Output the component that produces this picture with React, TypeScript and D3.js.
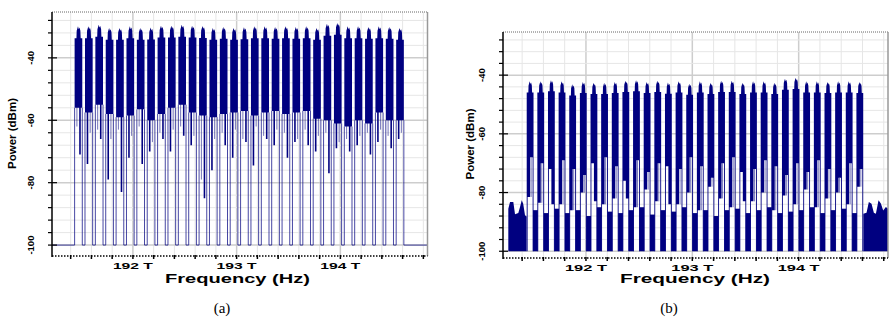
import React from "react";
import * as d3 from "d3";

// WDM spectrum, 32 channels on a 100 GHz grid (THz)
const channelFreqs = [
  191.475, 191.575, 191.675, 191.775, 191.875, 191.975, 192.075, 192.175,
  192.275, 192.375, 192.475, 192.575, 192.675, 192.775, 192.875, 192.975,
  193.075, 193.175, 193.275, 193.375, 193.475, 193.575, 193.675, 193.775,
  193.875, 193.975, 194.075, 194.175, 194.275, 194.375, 194.475, 194.575,
];

// (a) transmitter side, dBm
const peakA = [-29.9, -29.9, -29.4, -30.4, -30.4, -29.9, -30.4, -30.3, -29.7, -29.7, -29.4, -29.7, -29.8, -30.4, -30.1, -30.4,
  -30.2, -29.9, -29.9, -30.1, -29.9, -30.1, -29.9, -30.4, -29.1, -28.8, -29.9, -29.9, -30.1, -29.9, -30.1, -30.4];
const floorA = [-56, -57.5, -55, -58, -59, -58.5, -56.5, -60, -58, -56, -55, -57.5, -58.5, -59, -58, -57.5,
  -57, -58.5, -57.5, -57, -58, -57.5, -57, -59.5, -60, -61, -62, -60, -61, -57.5, -60, -60];
const dipA = [-71, -74, -66, -79, -83, -72, -74, -70, -66, -70, -65, -68, -85, -76, -68, -72,
  -67, -74.5, -66, -68, -72, -67, -68, -70, -77, -69, -70, -68, -71, -67, -69, -66];
const dipLightA = [-62, -64, -63, -66, -63, -65, -62, -67, -64, -63, -62, -65, -79, -66, -64, -63,
  -66, -62, -65, -63, -64, -66, -63, -65, -64, -67, -66, -65, -64, -63, -65, -64];

// (b) receiver side, dBm
const peakB = [-42.1, -42.1, -41.7, -42.1, -43.1, -42.3, -42.6, -42.6, -42.3, -41.9, -41.7, -42.3, -41.9, -42.5, -42.1, -42.9,
  -42.1, -42.6, -41.9, -41.9, -42.6, -42.1, -42.1, -42.6, -41.2, -40.9, -42.1, -42.1, -42.3, -42.1, -42.1, -42.3];
const lowLeftB = [-81.5, -83.5, -72, -84, -86, -80, -70, -84, -82, -76, -85, -79, -83, -71, -84, -80,
  -86, -78, -82, -85, -73, -83, -80, -86, -81, -84, -79, -85, -82, -80, -84, -78];
const lowRightB = [-68, -70, -84, -69, -72, -74, -83, -68, -71, -82, -69, -73, -70, -84, -72, -68,
  -71, -75, -70, -68, -83, -72, -69, -71, -74, -70, -73, -69, -72, -75, -70, -72];
const gapNoiseB = [-86, -87, -85.5, -87, -86, -88, -85, -86.5, -87, -86, -85, -87.5, -86, -86.5, -85, -87,
  -86, -88, -86, -85.5, -87, -86, -85, -87, -86.5, -86, -85, -87, -86, -85.5, -87];
const noiseLeftB: [number, number][] = [
  [191.27, -85.5], [191.286, -83.2], [191.317, -83.2], [191.333, -87.4], [191.364, -87],
  [191.38, -84.9], [191.396, -82.6], [191.41, -83.8], [191.427, -87.7], [191.442, -88.2],
];
const noiseRightB: [number, number][] = [
  [194.608, -87.2], [194.638, -86.9], [194.66, -83.2], [194.685, -83.8], [194.707, -86.9],
  [194.726, -87.2], [194.751, -82.6], [194.773, -83.7], [194.795, -86.1], [194.82, -84.9], [194.84, -85.5],
];

const xTicks = [192, 193, 194];
const xTickLabels = ["192 T", "193 T", "194 T"];
const yTicks = [-100, -80, -60, -40];
const yTickLabels = ["-100", "-80", "-60", "-40"];

const FONT = "Arial, 'Liberation Sans', sans-serif";
const NAVY = "#000080";
const FREQ_DOMAIN: [number, number] = [191.22, 194.84];

// camel-shaped top of a modulated channel: [fraction of half width, dB below peak]
const profile: [number, number][] = [
  [-1, -3.8], [-0.52, -3.8], [-0.46, -1.4], [-0.12, 0], [0.08, -0.9],
  [0.28, -0.4], [0.5, -1.4], [0.58, -3.8], [1, -3.8],
];

type Box = { left: number; top: number; right: number; bottom: number };
type Sc = d3.ScaleLinear<number, number>;

function Frame(props: {
  id: string; box: Box; x: Sc; y: Sc; yTickX: number; yTitleX: number; yTitleY: number;
  xTickY: number; xTickLen: number; xTitleX: number; xTitleY: number; xTitleLen: number;
  children: React.ReactNode;
}) {
  const { id, box, x, y } = props;
  const minorX = d3.range(957, 975).map((v) => v / 5);
  const minorY = d3.range(-100, -24, 4);
  return (
    <g>
      <defs>
        <clipPath id={id}>
          <rect x={box.left} y={box.top} width={box.right - box.left} height={box.bottom - box.top} />
        </clipPath>
      </defs>
      {minorX.map((f) => (
        <line key={"gx" + f} x1={x(f)} x2={x(f)} y1={box.top} y2={box.bottom}
          stroke={xTicks.includes(Math.round(f * 5) / 5) ? "#cdcdcd" : "#e6e6e6"}
          strokeWidth={xTicks.includes(Math.round(f * 5) / 5) ? 1.5 : 1} />
      ))}
      {minorY.map((v) => (
        <line key={"gy" + v} x1={box.left} x2={box.right} y1={y(v)} y2={y(v)}
          stroke={yTicks.includes(v) ? "#cdcdcd" : "#e6e6e6"} strokeWidth={yTicks.includes(v) ? 1.5 : 1} />
      ))}
      <g clipPath={`url(#${id})`}>{props.children}</g>
      <line x1={box.left} x2={box.right} y1={box.top} y2={box.top} stroke="#666" strokeDasharray="1,1" />
      <line x1={box.right} x2={box.right} y1={box.top} y2={box.bottom} stroke="#999" strokeWidth={1.5} />
      <line x1={box.left} x2={box.right} y1={box.bottom} y2={box.bottom} stroke="#000" strokeWidth={1.3} strokeDasharray="1.5,1.5" />
      <line x1={box.left} x2={box.left} y1={box.top} y2={box.bottom + 1} stroke="#000" strokeWidth={1.5} />
      {minorY.map((v) => (
        <line key={"ty" + v} x1={box.left - 4} x2={box.left + (yTicks.includes(v) ? 5 : 0)} y1={y(v)} y2={y(v)}
          stroke="#000" strokeWidth={1.2} />
      ))}
      {minorX.map((f) => (
        <line key={"tx" + f} x1={x(f)} x2={x(f)} y1={box.bottom - 1} y2={box.bottom + 3} stroke="#000" strokeWidth={1.5} />
      ))}
      {yTicks.map((v, i) => (
        <text key={"ly" + v} transform={`translate(${props.yTickX},${y(v)}) rotate(-90)`} textAnchor="middle"
          fontSize={9.5} fontWeight="bold">{yTickLabels[i]}</text>
      ))}
      {xTicks.map((f, i) => (
        <text key={"lx" + f} x={x(f) - props.xTickLen / 2} y={props.xTickY} fontSize={9.5} fontWeight="bold"
          textLength={props.xTickLen} lengthAdjust="spacingAndGlyphs">{xTickLabels[i]}</text>
      ))}
      <text transform={`translate(${props.yTitleX},${props.yTitleY}) rotate(-90)`} textAnchor="middle"
        fontSize={11.5} fontWeight="bold">Power (dBm)</text>
      <text x={props.xTitleX - props.xTitleLen / 2} y={props.xTitleY} fontSize={12.5} fontWeight="bold"
        textLength={props.xTitleLen} lengthAdjust="spacingAndGlyphs">Frequency (Hz)</text>
    </g>
  );
}

const HALF_A = 0.037;
const HALF_B = 0.032;

function PanelA() {
  const box: Box = { left: 52, top: 12, right: 427.5, bottom: 256 };
  const x = d3.scaleLinear().domain(FREQ_DOMAIN).range([box.left, box.right]);
  const y = d3.scaleLinear().domain([-103.5, -25.3]).range([box.bottom, box.top]);
  const line = d3.line();
  const base = y(-100);

  const outline = d3.path();
  outline.moveTo(box.left, base);
  channelFreqs.forEach((c, k) => {
    const xl = x(c - HALF_A), xr = x(c + HALF_A);
    outline.lineTo(xl, base);
    outline.lineTo(xl, y(floorA[k]));
    outline.moveTo(xr, y(floorA[k]));
    outline.lineTo(xr, base);
  });
  outline.lineTo(box.right, base);

  return (
    <Frame id="clipA" box={box} x={x} y={y} yTickX={34} yTitleX={15.5} yTitleY={133.5}
      xTickY={269} xTickLen={40} xTitleX={237.5} xTitleY={282.5} xTitleLen={145}>
      {channelFreqs.map((c, k) => {
        const pts: [number, number][] = profile.map(([u, d]) => [x(c + u * HALF_A), y(peakA[k] + d)]);
        pts.push([x(c + HALF_A), y(floorA[k])], [x(c - HALF_A), y(floorA[k])]);
        const side = k % 2 === 0 ? 0.4 : -0.35;
        return (
          <g key={k}>
            <path d={line(pts) + "Z"} fill={NAVY} />
            <line x1={x(c + side * HALF_A)} x2={x(c + side * HALF_A)} y1={y(floorA[k]) - 1} y2={y(dipA[k])}
              stroke={NAVY} strokeWidth={1.6} />
            <line x1={x(c - side * HALF_A)} x2={x(c - side * HALF_A)} y1={y(floorA[k]) - 1} y2={y(dipLightA[k])}
              stroke={NAVY} strokeOpacity={0.55} strokeWidth={1} />
          </g>
        );
      })}
      <path d={outline.toString()} fill="none" stroke={NAVY} strokeOpacity={0.72} strokeWidth={1} />
    </Frame>
  );
}

function PanelB() {
  const box: Box = { left: 503, top: 32, right: 888, bottom: 258 };
  const x = d3.scaleLinear().domain(FREQ_DOMAIN).range([box.left, box.right]);
  const y = d3.scaleLinear().domain([-102.3, -25.3]).range([box.bottom, box.top]);
  const line = d3.line();
  const area = d3.area<[number, number]>().x((d) => x(d[0])).y0(y(-100)).y1((d) => y(d[1]));

  return (
    <Frame id="clipB" box={box} x={x} y={y} yTickX={485} yTitleX={473.5} yTitleY={144}
      xTickY={270.5} xTickLen={42} xTitleX={695} xTitleY={283} xTitleLen={150}>
      <path d={area(noiseLeftB) ?? ""} fill={NAVY} />
      <path d={area(noiseRightB) ?? ""} fill={NAVY} />
      {gapNoiseB.map((n, k) => {
        const x0 = x(channelFreqs[k] + HALF_B) - 0.5;
        const x1 = x(channelFreqs[k + 1] - HALF_B) + 0.5;
        return <rect key={"g" + k} x={x0} width={x1 - x0} y={y(n)} height={y(-100) - y(n)} fill={NAVY} />;
      })}
      {channelFreqs.map((c, k) => {
        const pts: [number, number][] = profile.map(([u, d]) => [x(c + u * HALF_B), y(peakB[k] + d)]);
        const inner = 0.74;
        pts.push(
          [x(c + HALF_B), y(-100)], [x(c + inner * HALF_B), y(-100)],
          [x(c + inner * HALF_B), y(lowRightB[k])], [x(c), y(lowRightB[k])],
          [x(c), y(lowLeftB[k])], [x(c - inner * HALF_B), y(lowLeftB[k])],
          [x(c - inner * HALF_B), y(-100)], [x(c - HALF_B), y(-100)],
        );
        const deeper = Math.min(lowLeftB[k], lowRightB[k]);
        return (
          <g key={k}>
            <path d={line(pts) + "Z"} fill={NAVY} />
            <line x1={x(c + 0.3 * HALF_B)} x2={x(c + 0.3 * HALF_B)} y1={y(lowRightB[k])} y2={y(deeper)}
              stroke={NAVY} strokeOpacity={0.5} strokeWidth={1} />
          </g>
        );
      })}
    </Frame>
  );
}

export default function App() {
  return (
    <svg width={894} height={319} fontFamily={FONT}
      style={{ position: "absolute", left: 0, top: 0, background: "#fff" }}>
      <PanelA />
      <PanelB />
      <text x={222} y={313} textAnchor="middle" fontFamily="'Liberation Serif', 'Times New Roman', serif" fontSize={15}>(a)</text>
      <text x={669} y={313} textAnchor="middle" fontFamily="'Liberation Serif', 'Times New Roman', serif" fontSize={15}>(b)</text>
    </svg>
  );
}
